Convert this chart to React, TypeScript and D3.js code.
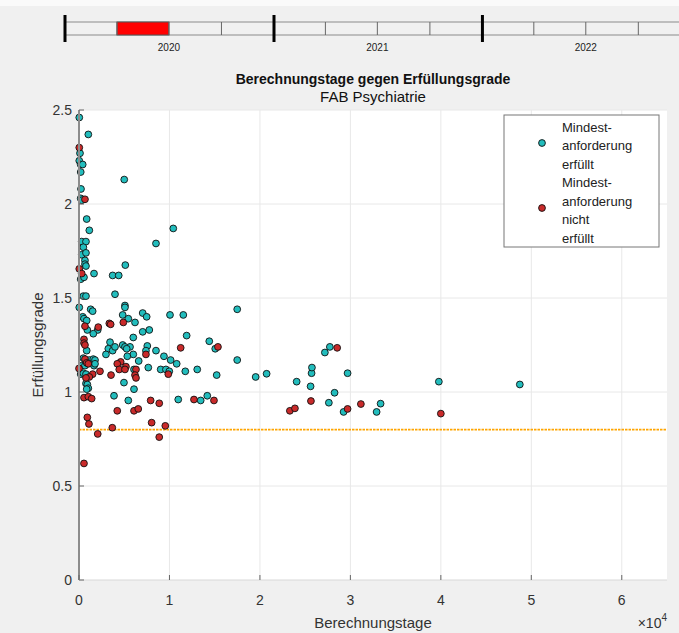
import React from 'react';
import * as d3 from 'd3';

// Berechnungstage / Erfüllungsgrad, Mindestanforderung erfüllt
const erfuelltTage = [
  30, 1030, 110, 30, 190, 410, 190, 5000, 220, 190, 300, 850, 1140, 10420, 300, 770,
  480, 8510, 300, 770, 660, 660, 770, 1660, 5120, 3720, 4390, 190, 550, 480, 770, 3980,
  30, 1290, 1510, 5080, 5080, 4830, 5450, 6190, 7040, 7480, 10060, 11530, 17490, 410,
  550, 850, 920, 2070, 1580, 7040, 7770, 6000, 11900, 14400, 15060, 3430, 3240, 3720,
  3980, 4830, 5080, 5640, 5270, 850, 2980, 7550, 7400, 8510, 6000, 5340, 9390, 10130,
  10800, 17490, 480, 1140, 1580, 1770, 300, 660, 1660, 1770, 6600, 6080, 7660, 9030,
  9610, 9980, 11750, 13070, 15220, 19530, 190, 480, 770, 4970, 770, 920, 1030, 850,
  6080, 3870, 5450, 10970, 13450, 14180, 20740, 24060, 25600, 25710, 25750, 27180,
  27730, 29690, 28250, 27620, 29250, 33340, 32900, 39780, 48730,
];
const erfuelltGrad = [
  2.46, 2.37, 2.27, 2.23, 2.21, 2.21, 2.17, 2.13, 2.08, 2.03, 2.02, 1.92, 1.86, 1.87, 1.8, 1.8,
  1.77, 1.79, 1.73, 1.74, 1.7, 1.68, 1.67, 1.63, 1.675, 1.62, 1.62, 1.6, 1.61, 1.51, 1.51, 1.52,
  1.45, 1.44, 1.43, 1.46, 1.45, 1.41, 1.39, 1.37, 1.42, 1.4, 1.41, 1.41, 1.44, 1.4,
  1.39, 1.38, 1.33, 1.33, 1.31, 1.32, 1.33, 1.29, 1.3, 1.27, 1.23, 1.265, 1.23, 1.22,
  1.24, 1.25, 1.24, 1.24, 1.23, 1.22, 1.2, 1.245, 1.22, 1.22, 1.2, 1.19, 1.19, 1.17,
  1.15, 1.17, 1.18, 1.17, 1.175, 1.17, 1.14, 1.14, 1.14, 1.15, 1.165, 1.12, 1.13, 1.12,
  1.12, 1.11, 1.11, 1.12, 1.09, 1.08, 1.095, 1.1, 1.095, 1.05, 1.045, 1.04, 1.02, 1.015,
  1.015, 0.98, 0.955, 0.96, 0.955, 0.98, 1.097, 1.055, 1.03, 1.1, 1.13, 1.21,
  1.24, 1.1, 0.996, 0.943, 0.894, 0.938, 0.894, 1.055, 1.04,
];

// Mindestanforderung nicht erfüllt
const nichtTage = [
  30, 660, 30, 300, 4900, 660, 2130, 3350, 3500, 550, 550, 660, 15360, 11240, 7400, 660,
  850, 1030, 4610, 4230, 5190, 4450, 5080, 6300, 9870, 0, 2320, 1510, 1140, 770, 3540,
  6190, 6300, 550, 1030, 1400, 7920, 8870, 12710, 14920, 4230, 6080, 6550, 920, 1100,
  8030, 9540, 3680, 2070, 8870, 550, 28540, 25640, 23310, 23870, 29690, 31160, 40000,
];
const nichtGrad = [
  2.3, 2.025, 1.655, 1.63, 1.37, 1.35, 1.345, 1.365, 1.36, 1.28, 1.26, 1.25, 1.24, 1.235, 1.2, 1.175,
  1.155, 1.15, 1.16, 1.15, 1.135, 1.12, 1.12, 1.12, 1.095, 1.125, 1.11, 1.095, 1.08, 1.075, 1.09,
  1.09, 1.075, 0.97, 0.975, 0.965, 0.955, 0.94, 0.96, 0.955, 0.9, 0.9, 0.91, 0.865, 0.83,
  0.837, 0.82, 0.81, 0.777, 0.76, 0.62, 1.235, 0.952, 0.9, 0.913, 0.91, 0.936, 0.885,
];

const mindestGrad = 0.8;
const xTicks = [0, 1, 2, 3, 4, 5, 6];
const yTicks = [0, 0.5, 1, 1.5, 2, 2.5];
const yTickLabels = ['0', '0.5', '1', '1.5', '2', '2.5'];
const jahre = [2020, 2021, 2022];
const aktivesQuartal = { jahr: 2020, quartal: 2 };
const legendeErfuellt = ['Mindest-', 'anforderung', 'erfüllt'];
const legendeNicht = ['Mindest-', 'anforderung', 'nicht', 'erfüllt'];

const W = 679;
const H = 633;
const font = '"Liberation Sans", Arial, Helvetica, sans-serif';
const teal = '#22bdbd';
const red = '#c92a2a';

export default function App() {
  const left = 79, right = 667, top = 110, bottom = 580;
  const x = d3.scaleLinear().domain([0, 6.5]).range([left, right]);
  const y = d3.scaleLinear().domain([0, 2.5]).range([bottom, top]);

  // timeline oben
  const t = d3.scaleTime()
    .domain([new Date(2020, 0, 1), new Date(2021, 0, 1)])
    .range([65, 274]);
  const quartale = d3.timeMonth.every(3)!.range(new Date(2020, 0, 1), new Date(2023, 3, 1));
  const qStart = new Date(aktivesQuartal.jahr, (aktivesQuartal.quartal - 1) * 3, 1);
  const qEnd = d3.timeMonth.offset(qStart, 3);

  const punkt = (cx: number, cy: number, fill: string, key: string) => (
    <circle key={key} cx={cx} cy={cy} r={3.4} fill={fill} stroke="#111" strokeWidth={0.9} />
  );

  return (
    <div style={{ position: 'absolute', left: 0, top: 0 }}>
      <svg width={W} height={H} style={{ display: 'block', fontFamily: font }}>
        <rect x={0} y={0} width={W} height={H} fill="#f0f0f0" />
        <rect x={0} y={0} width={W} height={6} fill="#fafafa" />

        {/* Zeitleiste */}
        <rect x={65} y={22} width={W} height={13} fill="#f0f0f0" stroke="#8a8a8a" strokeWidth={1} />
        <rect x={t(qStart)} y={22} width={t(qEnd) - t(qStart)} height={13} fill="#ff0000" stroke="#555" strokeWidth={1} />
        {quartale.map((d, i) => (
          d.getMonth() === 0 ? null :
            <line key={'q' + i} x1={t(d)} x2={t(d)} y1={22} y2={35} stroke="#666" strokeWidth={1} />
        ))}
        {jahre.map((j) => (
          <line key={'j' + j} x1={t(new Date(j, 0, 1))} x2={t(new Date(j, 0, 1))} y1={15} y2={42} stroke="#000" strokeWidth={3} />
        ))}
        {jahre.map((j) => (
          <text key={'jl' + j} x={t(new Date(j, 6, 1))} y={51} fontSize={10} textAnchor="middle" fill="#222">{j}</text>
        ))}

        <text x={373} y={84} fontSize={14} fontWeight="bold" textAnchor="middle" fill="#111">
          Berechnungstage gegen Erfüllungsgrade
        </text>
        <text x={373} y={102} fontSize={15} textAnchor="middle" fill="#111">FAB Psychiatrie</text>

        {/* Plotfläche */}
        <rect x={left} y={top} width={right - left} height={bottom - top} fill="#fff" />
        {xTicks.slice(1).map((v) => (
          <line key={'gx' + v} x1={x(v)} x2={x(v)} y1={top} y2={bottom} stroke="#e8e8e8" strokeWidth={1} />
        ))}
        {yTicks.slice(1).map((v) => (
          <line key={'gy' + v} x1={left} x2={right} y1={y(v)} y2={y(v)} stroke="#e8e8e8" strokeWidth={1} />
        ))}

        <line x1={left} x2={right} y1={y(mindestGrad)} y2={y(mindestGrad)} stroke="#ffa500" strokeWidth={1.6} strokeDasharray="2.5 1" />

        {erfuelltTage.map((d, i) => punkt(x(d / 1e4), y(erfuelltGrad[i]), teal, 'e' + i))}
        {nichtTage.map((d, i) => punkt(x(d / 1e4), y(nichtGrad[i]), red, 'n' + i))}

        {/* Achsen */}
        <line x1={left} x2={left} y1={top} y2={bottom} stroke="#8c8c8c" strokeWidth={2} />
        <line x1={left} x2={right} y1={bottom} y2={bottom} stroke="#d8d8d8" strokeWidth={1} />
        {yTicks.map((v, i) => (
          <g key={'yt' + v}>
            <line x1={left} x2={left + 5} y1={y(v)} y2={y(v)} stroke="#666" strokeWidth={1} />
            <text x={left - 7} y={y(v) + 5} fontSize={14} textAnchor="end" fill="#333">{yTickLabels[i]}</text>
          </g>
        ))}
        {xTicks.map((v) => (
          <g key={'xt' + v}>
            <line x1={x(v)} x2={x(v)} y1={bottom} y2={bottom - 5} stroke="#666" strokeWidth={1} />
            <text x={x(v)} y={605} fontSize={14} textAnchor="middle" fill="#333">{v}</text>
          </g>
        ))}
        <text x={373} y={628} fontSize={15} textAnchor="middle" fill="#333">Berechnungstage</text>
        <text x={667} y={628} fontSize={14} textAnchor="end" fill="#333">
          ×10<tspan dy={-7} fontSize={10}>4</tspan>
        </text>
        <text transform={`translate(43,${(top + bottom) / 2}) rotate(-90)`} fontSize={15} textAnchor="middle" fill="#333">
          Erfüllungsgrade
        </text>

        {/* Legende */}
        <rect x={504} y={115} width={155} height={132} fill="#fff" stroke="#777" strokeWidth={1} />
        {punkt(542, 143, teal, 'le')}
        {punkt(542, 208, red, 'ln')}
        {legendeErfuellt.map((s, i) => (
          <text key={'le' + i} x={562} y={131.5 + i * 18.5} fontSize={13} fill="#222">{s}</text>
        ))}
        {legendeNicht.map((s, i) => (
          <text key={'ln' + i} x={562} y={187 + i * 18.5} fontSize={13} fill="#222">{s}</text>
        ))}
      </svg>
    </div>
  );
}
